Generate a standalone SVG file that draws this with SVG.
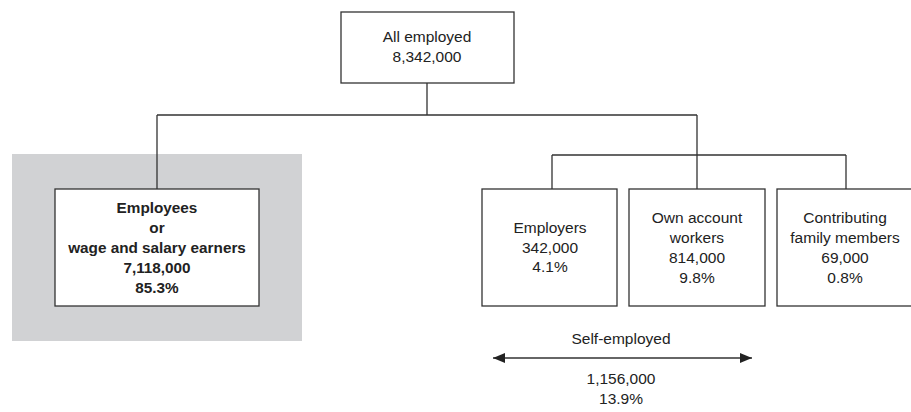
<svg xmlns="http://www.w3.org/2000/svg" width="911" height="412" viewBox="0 0 911 412">
<defs>
<style>
text{font-family:"Liberation Sans",Arial,sans-serif;font-size:15.5px;fill:#222;text-anchor:middle}
.b{font-weight:bold;font-size:15.3px}
.box{fill:#fff;stroke:#333;stroke-width:1.3}
.ln{fill:none;stroke:#333;stroke-width:1.3}
</style>
<marker id="ah" viewBox="0 0 12 12" refX="12" refY="6" markerWidth="12" markerHeight="12" markerUnits="userSpaceOnUse" orient="auto-start-reverse">
<path d="M0,1 L12,6 L0,11 Z" fill="#222"/>
</marker>
</defs>
<rect x="12" y="154" width="290" height="187" fill="#d1d2d4"/>
<g id="connectors">
<path class="ln" d="M427,83 V115 M157,115 H697 M157,115 V189 M697,115 V155 M552,155 H846 M552,155 V189 M697,155 V189 M846,155 V189"/>
<line class="ln" x1="493" y1="358" x2="752" y2="358" marker-start="url(#ah)" marker-end="url(#ah)"/>
</g>
<g id="all">
<rect class="box" x="341" y="12" width="173" height="71"/>
<text x="427" y="42">All employed</text>
<text x="427" y="62">8,342,000</text>
</g>
<g id="employees">
<rect class="box" x="55" y="189" width="204" height="117"/>
<text class="b" x="157" y="213">Employees</text>
<text class="b" x="157" y="233">or</text>
<text class="b" x="157" y="253">wage and salary earners</text>
<text class="b" x="157" y="273">7,118,000</text>
<text class="b" x="157" y="293">85.3%</text>
</g>
<g id="employers">
<rect class="box" x="482" y="189" width="135" height="117"/>
<text x="550" y="233">Employers</text>
<text x="550" y="253">342,000</text>
<text x="550" y="272">4.1%</text>
</g>
<g id="own">
<rect class="box" x="629" y="189" width="136" height="117"/>
<text x="697" y="223">Own account</text>
<text x="697" y="243">workers</text>
<text x="697" y="263">814,000</text>
<text x="697" y="283">9.8%</text>
</g>
<g id="contrib">
<rect class="box" x="777" y="189" width="137" height="117"/>
<text x="845" y="223">Contributing</text>
<text x="845" y="243">family members</text>
<text x="845" y="263">69,000</text>
<text x="845" y="283">0.8%</text>
</g>
<g id="self">
<text x="621" y="344">Self-employed</text>
<text x="621" y="384">1,156,000</text>
<text x="621" y="404">13.9%</text>
</g>
</svg>
